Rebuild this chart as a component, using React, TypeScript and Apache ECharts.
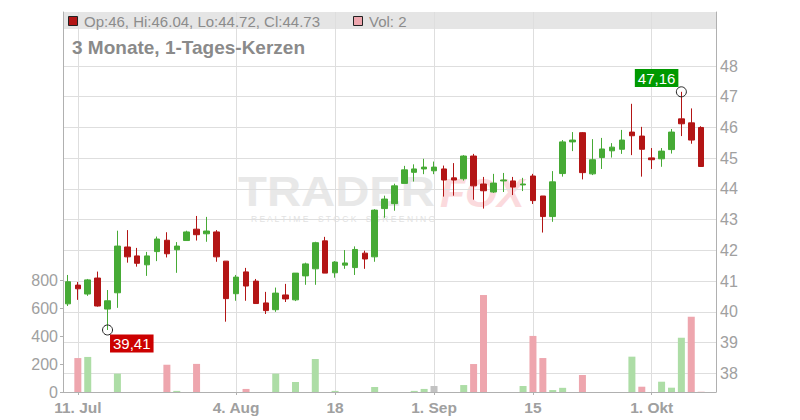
import React, { useEffect, useRef } from "react";
import * as echarts from "echarts";

// Trading days (Mon–Fri) starting 10 Jul 2025; 66 slots, the last one empty
const dates: string[] = (() => {
  const out: string[] = [];
  const d = new Date(Date.UTC(2025, 6, 10));
  while (out.length < 66) {
    const wd = d.getUTCDay();
    if (wd !== 0 && wd !== 6) out.push(d.toISOString().slice(0, 10));
    d.setUTCDate(d.getUTCDate() + 1);
  }
  return out;
})();

const tickDates = ["2025-07-11", "2025-08-04", "2025-08-18", "2025-09-01", "2025-09-15", "2025-10-01"];
const tickLabels = ["11. Jul", "4. Aug", "18", "1. Sep", "15", "1. Okt"];

const opens = [
  40.26, 40.87, 40.58, 41.1, 40.09, 40.62, 42.11, 41.82, 41.53, 41.96,
  42.33, 42.02, 42.32, 42.69, 42.54, 42.6, 41.65, 40.59, 41.3, 41.0,
  40.29, 40.07, 40.55, 40.39, 41.17, 41.4, 42.31, 41.27, 41.52, 41.44,
  41.91, 41.79, 43.36, 43.52, 44.18, 44.54, 44.65, 44.59, 44.65, 44.36,
  44.33, 45.07, 44.16, 43.9, 44.26, 44.26, 44.13, 44.42, 43.77, 43.1,
  44.5, 45.53, 45.83, 44.49, 45.02, 45.24, 45.29, 45.85, 45.72, 45.01,
  44.98, 45.28, 46.28, 46.15, 46.0,
];
const closes = [
  40.98, 40.75, 41.04, 40.19, 40.36, 42.14, 41.79, 41.58, 41.82, 42.37,
  41.89, 42.14, 42.6, 42.51, 42.63, 41.79, 40.43, 41.13, 40.84, 40.27,
  40.04, 40.61, 40.42, 41.26, 41.56, 42.25, 41.26, 41.62, 41.59, 42.03,
  41.72, 43.31, 43.67, 44.1, 44.62, 44.65, 44.71, 44.71, 44.29, 44.29,
  45.07, 44.1, 43.94, 44.19, 44.29, 44.06, 44.16, 43.62, 43.1, 44.23,
  45.53, 45.59, 44.53, 44.95, 45.3, 45.36, 45.59, 45.73, 45.29, 44.95,
  45.23, 45.85, 46.12, 45.59, 44.73,
];
const lows = [
  40.19, 40.39, 40.52, 40.17, 39.41, 40.13, 41.6, 41.47, 41.17, 41.65,
  41.77, 41.27, 42.32, 42.32, 42.28, 41.63, 39.68, 40.36, 40.36, 40.27,
  39.93, 40.0, 40.32, 40.35, 40.88, 40.88, 41.26, 41.11, 41.4, 41.2,
  41.4, 41.63, 43.06, 43.29, 44.18, 44.24, 44.48, 44.48, 43.75, 43.78,
  44.27, 43.65, 43.36, 43.87, 43.9, 43.8, 43.93, 43.51, 42.58, 42.93,
  44.4, 45.23, 44.31, 44.45, 44.65, 45.02, 45.14, 45.1, 44.4, 44.65,
  44.72, 45.15, 45.72, 45.47, 44.72,
];
const highs = [
  41.2, 40.97, 41.07, 41.31, 40.71, 42.64, 42.66, 42.08, 41.95, 42.45,
  42.59, 42.27, 42.64, 43.12, 43.09, 42.66, 41.65, 41.2, 41.43, 41.07,
  40.65, 40.79, 40.91, 41.26, 41.6, 42.28, 42.44, 41.65, 42.01, 42.13,
  41.99, 43.34, 43.78, 44.17, 44.75, 44.8, 44.98, 44.89, 44.76, 44.84,
  45.1, 45.14, 44.39, 44.49, 44.52, 44.39, 44.36, 44.49, 43.77, 44.58,
  45.59, 45.85, 45.85, 45.62, 45.66, 45.49, 45.92, 46.77, 46.02, 45.33,
  45.33, 45.95, 47.16, 46.62, 46.04,
];
const volumes = [
  0, 244, 252, 0, 0, 132, 0, 0, 0, 0,
  196, 8, 0, 202, 0, 0, 0, 0, 22, 0,
  0, 132, 0, 72, 0, 237, 0, 8, 0, 0,
  0, 36, 0, 0, 0, 8, 22, 43, 0, 0,
  50, 201, 697, 0, 0, 0, 43, 403, 244, 14,
  30, 0, 122, 0, 0, 0, 0, 254, 38, 0,
  74, 31, 390, 541, 2,
];

const priceTicks = { min: 38, max: 48, step: 1 };
const volTicks = { min: 0, max: 800, step: 200 };

const UP = "#46aa35";
const DOWN = "#b31515";
const VOL_UP = "#addda6";
const VOL_DOWN = "#eea6ae";
const VOL_FLAT = "#c2c2c2";
const GRID = "#dedede";
const AXIS = "#b0b0b0";
const LABEL = "#a0a0a0";
const FONT = "Liberation Sans, Arial, sans-serif";

export default function App() {
  const ref = useRef<HTMLDivElement>(null);
  useEffect(() => {
    if (!ref.current) return;
    const chart = echarts.init(ref.current, undefined, { renderer: "svg" });

    const candleData = opens.map((o, i) => [o, closes[i], lows[i], highs[i]]);
    const volData = volumes.map((v, i) => {
      const prev = i > 0 ? closes[i - 1] : closes[i];
      const c = closes[i] > prev ? VOL_UP : closes[i] < prev ? VOL_DOWN : VOL_FLAT;
      return { value: v, itemStyle: { color: c } };
    });
    const isTick = (_idx: number, value: string) => tickDates.indexOf(value) >= 0;

    const lowIdx = lows.indexOf(Math.min(...lows));
    const highIdx = highs.indexOf(Math.max(...highs));
    const fmt = (v: number) => v.toFixed(2).replace(".", ",");

    const option: any = {
      animation: false,
      grid: [
        { left: 63, right: 84, top: 12, bottom: 28 },
        { left: 63, right: 84, top: 66, bottom: 46.7 },
        { left: 63, right: 84, top: 280.7, bottom: 28 },
      ],
      xAxis: [
        {
          type: "category",
          gridIndex: 0,
          data: dates,
          boundaryGap: true,
          axisLine: { show: true, lineStyle: { color: AXIS, width: 1 } },
          axisTick: { show: true, interval: isTick, alignWithLabel: true, length: 3, lineStyle: { color: AXIS } },
          axisLabel: {
            interval: isTick,
            formatter: (v: string) => {
              const k = tickDates.indexOf(v);
              return k >= 0 ? tickLabels[k] : "";
            },
            color: LABEL,
            fontSize: 15.5,
            fontWeight: "bold",
            fontFamily: FONT,
            margin: 7,
          },
          splitLine: { show: true, interval: isTick, alignWithLabel: true, lineStyle: { color: GRID, width: 1 } },
        },
        { type: "category", gridIndex: 1, data: dates, boundaryGap: true, show: false },
        { type: "category", gridIndex: 2, data: dates, boundaryGap: true, show: false },
      ],
      yAxis: [
        {
          type: "value", gridIndex: 0, min: 0, max: 1, position: "left",
          axisLine: { show: true, lineStyle: { color: AXIS } },
          axisTick: { show: false }, axisLabel: { show: false }, splitLine: { show: false },
        },
        {
          type: "value", gridIndex: 0, min: 0, max: 1, position: "right",
          axisLine: { show: true, lineStyle: { color: AXIS } },
          axisTick: { show: false }, axisLabel: { show: false }, splitLine: { show: false },
        },
        {
          type: "value", gridIndex: 1, position: "right",
          min: priceTicks.min, max: priceTicks.max, interval: priceTicks.step,
          axisLine: { show: false }, axisTick: { show: false },
          axisLabel: { color: LABEL, fontSize: 16, margin: 4, fontFamily: FONT },
          splitLine: { show: true, lineStyle: { color: GRID, width: 1 } },
        },
        {
          type: "value", gridIndex: 2, position: "left",
          min: volTicks.min, max: volTicks.max, interval: volTicks.step,
          axisLine: { show: false },
          axisTick: { show: true, length: 3, lineStyle: { color: AXIS } },
          axisLabel: { color: LABEL, fontSize: 16, margin: 5, fontFamily: FONT },
          splitLine: { show: false },
        },
      ],
      graphic: [
        { type: "rect", z: -1, shape: { x: 63, y: 12, width: 653, height: 17 }, style: { fill: "#e5e5e5" } },
        { type: "rect", z: 5, shape: { x: 68.5, y: 16.5, width: 9, height: 9 }, style: { fill: DOWN, stroke: "#222", lineWidth: 1 } },
        {
          type: "text", z: 5, x: 84, y: 21,
          style: { text: `Op:${opens[64]}, Hi:${highs[64]}, Lo:${lows[64]}, Cl:${closes[64]}`, fill: "#8c8c8c", font: "15px 'Liberation Sans', Arial, sans-serif", verticalAlign: "middle" },
        },
        { type: "rect", z: 5, shape: { x: 353.5, y: 16.5, width: 9, height: 9 }, style: { fill: VOL_DOWN, stroke: "#222", lineWidth: 1 } },
        {
          type: "text", z: 5, x: 369, y: 21,
          style: { text: `Vol: ${volumes[64]}`, fill: "#8c8c8c", font: "15px 'Liberation Sans', Arial, sans-serif", verticalAlign: "middle" },
        },
        {
          type: "text", z: 5, x: 72, y: 47,
          style: { text: "3 Monate, 1-Tages-Kerzen", fill: "#8a8a8a", font: "bold 19px 'Liberation Sans', Arial, sans-serif", verticalAlign: "middle" },
        },
        {
          type: "text", z: -1, x: 238, y: 191, scaleX: 1.1,
          style: { text: "TRADER", fill: "#e8e8e8", font: "bold 43px 'Liberation Sans', Arial, sans-serif", verticalAlign: "middle" },
        },
        {
          type: "text", z: -1, x: 440, y: 193,
          style: { text: "FOX", fill: "#fbdadd", font: "italic bold 41px 'Liberation Sans', Arial, sans-serif", verticalAlign: "middle" },
        },
        {
          type: "text", z: -1, x: 251, y: 219,
          style: { text: "R E A L T I M E    S T O C K    S C R E E N I N G", fill: "#e2e2e2", font: "8.5px 'Liberation Sans', Arial, sans-serif", verticalAlign: "middle" },
        },
      ],
      series: [
        {
          type: "candlestick",
          xAxisIndex: 1,
          yAxisIndex: 2,
          data: candleData,
          barWidth: 6,
          itemStyle: { color: UP, color0: DOWN, borderColor: UP, borderColor0: DOWN, borderWidth: 1 },
          z: 3,
        },
        {
          type: "bar",
          xAxisIndex: 2,
          yAxisIndex: 3,
          data: volData,
          barWidth: 7,
          z: 2,
        },
        {
          type: "scatter",
          xAxisIndex: 1,
          yAxisIndex: 2,
          symbol: "circle",
          symbolSize: 10,
          z: 6,
          itemStyle: { color: "rgba(0,0,0,0)", borderColor: "#222", borderWidth: 1, opacity: 1 },
          data: [
            {
              value: [dates[lowIdx], lows[lowIdx]],
              label: {
                show: true, formatter: fmt(lows[lowIdx]), position: [8, 10], align: "left", verticalAlign: "top",
                backgroundColor: "#cc0000", color: "#fff", fontSize: 15, lineHeight: 15, padding: [2, 3, 1, 3],
                fontFamily: FONT, opacity: 1,
              },
            },
            {
              value: [dates[highIdx], highs[highIdx]],
              label: {
                show: true, formatter: fmt(highs[highIdx]), position: [2.5, 0.7], align: "right", verticalAlign: "bottom",
                backgroundColor: "#009900", color: "#fff", fontSize: 15, lineHeight: 15, padding: [2, 3, 1, 3],
                fontFamily: FONT, opacity: 1,
              },
            },
          ],
        },
      ],
    };
    chart.setOption(option);
    return () => chart.dispose();
  }, []);
  return <div ref={ref} style={{ position: "fixed", left: 0, top: 0, width: 800, height: 420, background: "#fff" }} />;
}
